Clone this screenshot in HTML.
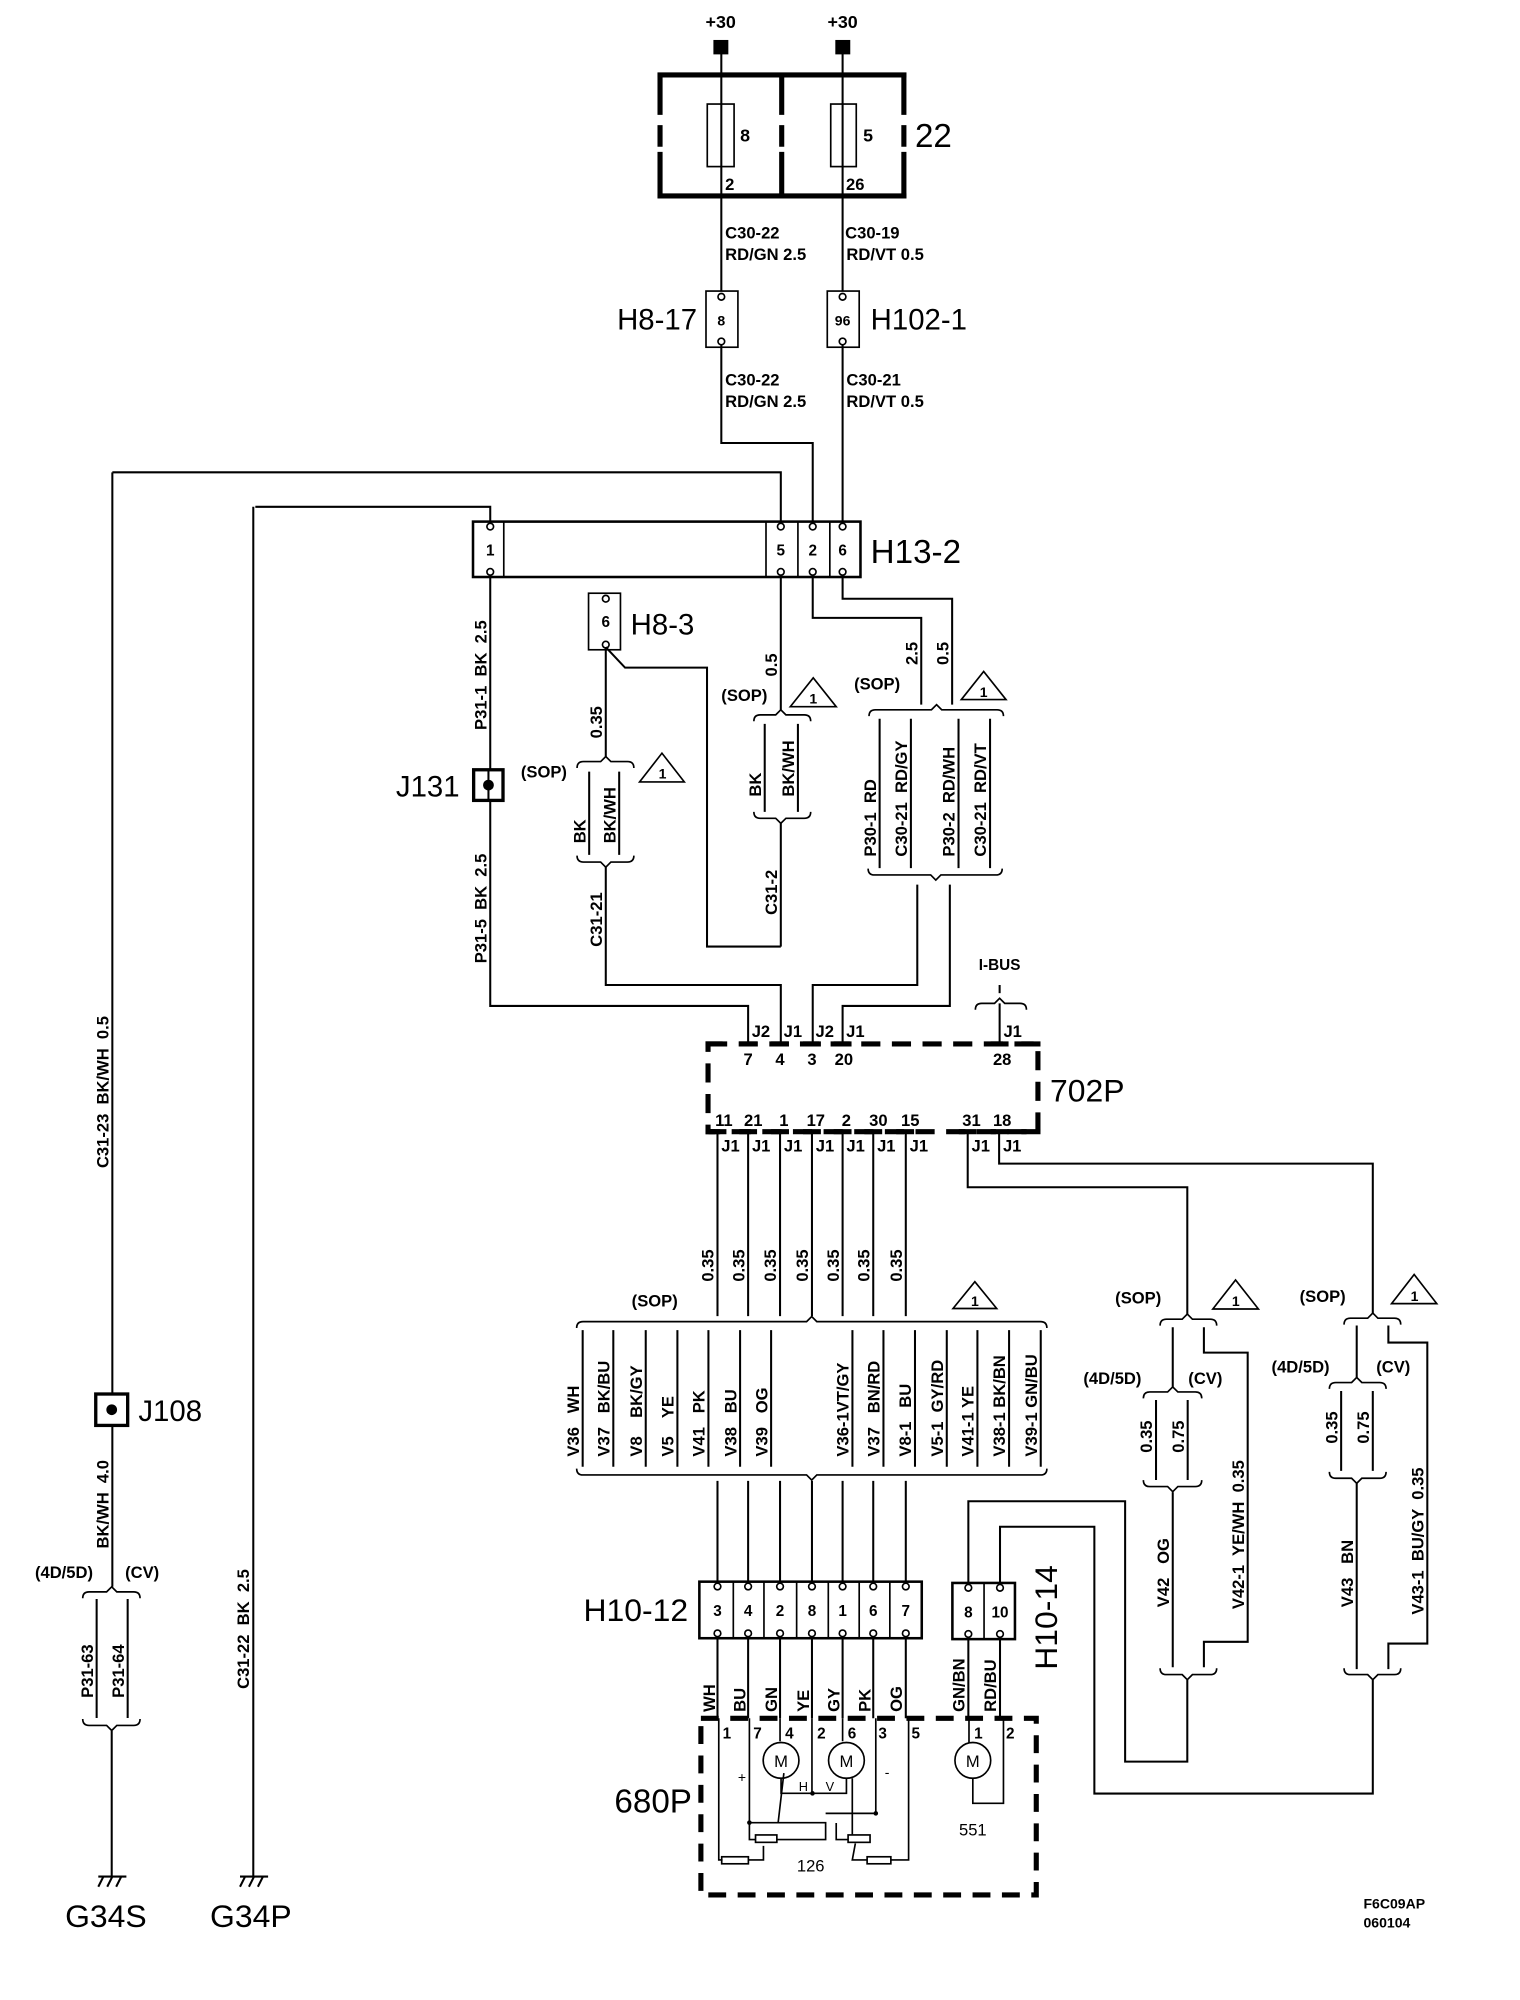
<!DOCTYPE html>
<html><head><meta charset="utf-8"><style>
html,body{margin:0;padding:0;background:#fff;}
svg{display:block;}
text{font-family:"Liberation Sans",Arial,sans-serif;font-weight:bold;fill:#000;}
.n{font-weight:normal;}
.w{stroke:#000;stroke-width:1.6;fill:none;}
.t{stroke:#000;stroke-width:1.3;fill:none;}
</style></head><body>
<svg width="1520" height="2000" viewBox="0 0 1190.6 1566.7" preserveAspectRatio="none" font-size="13" xmlns="http://www.w3.org/2000/svg">
<rect x="0" y="0" width="1190.6" height="1566.7" fill="#fff"/>

<!-- TOP FUSES -->
<text x="564.5" y="22" text-anchor="middle" font-size="14">+30</text>
<text x="660" y="22" text-anchor="middle" font-size="14">+30</text>
<rect x="558.8" y="31.3" width="11.7" height="11.3"/>
<rect x="654.3" y="31.3" width="11.7" height="11.3"/>
<path class="w" d="M565,37V228M660,37V228"/>
<g stroke="#000" stroke-width="4" fill="none">
<path d="M515,58.7H710M515,153.5H710"/>
<path d="M517,56.9V90M517,98V115M517,119V155.4"/>
<path d="M612.3,56.9V90M612.3,98V115M612.3,119V155.4"/>
<path d="M708,56.9V90M708,98V115M708,119V155.4"/>
</g>
<rect x="554" y="81.5" width="21" height="49" class="t"/>
<rect x="650.7" y="81.5" width="20" height="49" class="t"/>
<text x="583.6" y="111" text-anchor="middle" font-size="14">8</text>
<text x="680" y="111" text-anchor="middle" font-size="14">5</text>
<text x="716.7" y="115" font-size="26" class="n">22</text>
<text x="568" y="149">2</text>
<text x="662.7" y="149">26</text>
<text x="568" y="186.7">C30-22</text>
<text x="568" y="203.7">RD/GN 2.5</text>
<text x="662" y="186.7">C30-19</text>
<text x="663" y="203.7">RD/VT 0.5</text>

<!-- H8-17 / H102-1 -->
<rect x="553" y="228" width="25" height="44" class="t"/>
<rect x="648" y="228" width="25" height="44" class="t"/>
<circle cx="565" cy="232.5" r="2.6" class="t" fill="#fff"/><circle cx="565" cy="267.5" r="2.6" class="t" fill="#fff"/>
<circle cx="660" cy="232.5" r="2.6" class="t" fill="#fff"/><circle cx="660" cy="267.5" r="2.6" class="t" fill="#fff"/>
<text x="565" y="255" text-anchor="middle" font-size="11">8</text>
<text x="660" y="255" text-anchor="middle" font-size="11">96</text>
<text x="546" y="258" text-anchor="end" font-size="23" class="n">H8-17</text>
<text x="682" y="258" font-size="23" class="n">H102-1</text>
<path class="w" d="M565,270V347H636.6V408M660,270V408"/>
<text x="568" y="302">C30-22</text>
<text x="568" y="319">RD/GN 2.5</text>
<text x="663" y="302">C30-21</text>
<text x="663" y="319">RD/VT 0.5</text>
<path class="w" d="M88,370H611.6V408M200,397H384V408"/>

<!-- H13-2 -->
<rect x="370.5" y="408.6" width="303.5" height="43.4" stroke="#000" stroke-width="2" fill="none"/>
<path class="t" d="M394.6,408.6V452M600,408.6V452M625,408.6V452M650,408.6V452"/>
<g class="t" fill="#fff">
<circle cx="384" cy="412.5" r="2.6"/><circle cx="384" cy="448" r="2.6"/>
<circle cx="611.6" cy="412.5" r="2.6"/><circle cx="611.6" cy="448" r="2.6"/>
<circle cx="636.6" cy="412.5" r="2.6"/><circle cx="636.6" cy="448" r="2.6"/>
<circle cx="660" cy="412.5" r="2.6"/><circle cx="660" cy="448" r="2.6"/>
</g>
<text x="384" y="435" text-anchor="middle" font-size="12">1</text>
<text x="611.6" y="435" text-anchor="middle" font-size="12">5</text>
<text x="636.6" y="435" text-anchor="middle" font-size="12">2</text>
<text x="660" y="435" text-anchor="middle" font-size="12">6</text>
<text x="682" y="441" font-size="26" class="n">H13-2</text>

<!-- pin 1 / J131 -->
<path class="w" d="M384,450V788H586V818"/>
<rect x="371" y="603" width="23" height="24" stroke="#000" stroke-width="2.6" fill="#fff"/>
<circle cx="382.6" cy="615" r="4.2"/>
<path class="w" d="M382.6,603V627"/>
<text x="360" y="624" text-anchor="end" font-size="23" class="n">J131</text>
<text transform="translate(381,571.8) rotate(-90)" xml:space="preserve">P31-1  BK  2.5</text>
<text transform="translate(381,754.6) rotate(-90)" xml:space="preserve">P31-5  BK  2.5</text>

<!-- H8-3 group -->
<rect x="461" y="464.7" width="25" height="44.3" class="t"/>
<circle cx="474.5" cy="469" r="2.6" class="t" fill="#fff"/><circle cx="474.5" cy="505" r="2.6" class="t" fill="#fff"/>
<text x="474.5" y="491" text-anchor="middle" font-size="12">6</text>
<text x="494" y="497" font-size="23" class="n">H8-3</text>
<path class="w" d="M474.5,507L489.6,523H553.8V741.5H611.6"/>
<path class="w" d="M474.5,507V592.6"/>
<text transform="translate(471.5,578.4) rotate(-90)">0.35</text>
<text x="408" y="609">(SOP)</text>
<path class="t" d="M452,601.6Q452,596.6 457,596.6L470.5,596.6L474.5,592.6L478.5,596.6L491.5,596.6Q496.5,596.6 496.5,601.6"/>
<path class="t" d="M501,612.5L518.5,590L536,612.5Z"/>
<text x="519" y="610" text-anchor="middle" font-size="11">1</text>
<path class="w" d="M461.5,604.5V669.7M485,604.5V669.7"/>
<text transform="translate(458.5,660.6) rotate(-90)">BK</text>
<text transform="translate(482,660.6) rotate(-90)">BK/WH</text>
<path class="t" d="M452,670.3Q452,675.3 457,675.3L470.5,675.3L474.5,679.3L478.5,675.3L491.5,675.3Q496.5,675.3 496.5,670.3"/>
<path class="w" d="M474.5,679V771.6H611.6V818"/>
<text transform="translate(471.5,741.6) rotate(-90)">C31-21</text>

<!-- pin 5 group -->
<path class="w" d="M611.6,450V556"/>
<text transform="translate(608.5,529.9) rotate(-90)">0.5</text>
<text x="565" y="549">(SOP)</text>
<path class="t" d="M619,553.6L637,531L655,553.6Z"/>
<text x="637" y="551" text-anchor="middle" font-size="11">1</text>
<path class="t" d="M590.5,565Q590.5,560 595.5,560L607.6,560L611.6,556L615.6,560L630,560Q635,560 635,565"/>
<path class="w" d="M599,567V636M625,567V636"/>
<text transform="translate(596,624) rotate(-90)">BK</text>
<text transform="translate(622,624) rotate(-90)">BK/WH</text>
<path class="t" d="M590.5,636Q590.5,641 595.5,641L607.6,641L611.6,645L615.6,641L630,641Q635,641 635,636"/>
<path class="w" d="M611.6,645V741.5"/>
<text transform="translate(608.5,716.7) rotate(-90)">C31-2</text>

<!-- pins 2/6 group -->
<path class="w" d="M636.6,450V484H721.6V552M660,450V469H745.8V552"/>
<text transform="translate(718.6,520.9) rotate(-90)">2.5</text>
<text transform="translate(742.8,520.9) rotate(-90)">0.5</text>
<text x="669" y="540">(SOP)</text>
<path class="t" d="M753,548L770.5,526L788,548Z"/>
<text x="770.5" y="546" text-anchor="middle" font-size="11">1</text>
<path class="t" d="M680.7,561Q680.7,556 685.7,556L729.6,556L733.6,552L737.6,556L781,556Q786,556 786,561"/>
<path class="w" d="M689,563V680M713.5,563V680M750.8,563V680M775.5,563V680"/>
<text transform="translate(686,671) rotate(-90)" xml:space="preserve">P30-1  RD</text>
<text transform="translate(710.5,671) rotate(-90)" xml:space="preserve">C30-21  RD/GY</text>
<text transform="translate(747.8,671) rotate(-90)" xml:space="preserve">P30-2  RD/WH</text>
<text transform="translate(772.5,671) rotate(-90)" xml:space="preserve">C30-21  RD/VT</text>
<path class="t" d="M680,680.4Q680,685.4 685,685.4L729,685.4L733,689.4L737,685.4L780,685.4Q785,685.4 785,680.4"/>
<path class="w" d="M718.5,693V771.6H636.6V818M744,693V788H660V818"/>

<!-- left long wires -->
<text transform="translate(85,915) rotate(-90)" xml:space="preserve">C31-23  BK/WH  0.5</text>
<path class="w" d="M88,370V1243"/>
<rect x="75" y="1092" width="25" height="24.6" stroke="#000" stroke-width="2.6" fill="#fff"/>
<circle cx="87.5" cy="1104.3" r="4.2"/>
<text x="108.4" y="1113" font-size="23" class="n">J108</text>
<text transform="translate(85,1213) rotate(-90)" xml:space="preserve">BK/WH  4.0</text>
<text x="27.4" y="1236">(4D/5D)</text>
<text x="98" y="1236">(CV)</text>
<path class="t" d="M64.8,1252Q64.8,1247 69.8,1247L83.5,1247L87.5,1243L91.5,1247L104.7,1247Q109.7,1247 109.7,1252"/>
<path class="w" d="M75.7,1252.6V1345.8M100,1252.6V1345.8"/>
<text transform="translate(72.7,1330) rotate(-90)">P31-63</text>
<text transform="translate(97,1330) rotate(-90)">P31-64</text>
<path class="t" d="M64.8,1346.6Q64.8,1351.6 69.8,1351.6L83.5,1351.6L87.5,1355.6L91.5,1351.6L104.7,1351.6Q109.7,1351.6 109.7,1346.6"/>
<path class="w" d="M87.5,1356V1470"/>
<path class="w" d="M77,1470H99M81,1470L77,1478M88,1470L84,1478M95,1470L91,1478"/>
<text x="51" y="1509.6" font-size="25" class="n">G34S</text>
<path class="w" d="M198.4,397V1470"/>
<path class="w" d="M188,1470H210M192,1470L188,1478M199,1470L195,1478M206,1470L202,1478"/>
<text x="164.5" y="1509.6" font-size="25" class="n">G34P</text>
<text transform="translate(195,1323) rotate(-90)" xml:space="preserve">C31-22  BK  2.5</text>

<!-- 702P -->
<rect x="554.6" y="817.8" width="258.4" height="68.7" stroke="#000" stroke-width="4" fill="none" stroke-dasharray="15 9"/>
<g stroke="#000" stroke-width="4">
<path d="M579,817.8H593M604,817.8H618M629,817.8H643M653,817.8H667M776,817.8H790"/>
<path d="M555,886.5H569M579,886.5H593M604,886.5H618M629,886.5H643M653,886.5H667M677,886.5H691M702,886.5H716M751,886.5H765M776,886.5H790"/>
<path d="M552.6,817.8H566M800,817.8H815M552.6,886.5H560M800,886.5H815"/>
</g>
<text x="588.8" y="812.5">J2</text>
<text x="613.8" y="812.5">J1</text>
<text x="638.8" y="812.5">J2</text>
<text x="662.8" y="812.5">J1</text>
<text x="786" y="812.5">J1</text>
<text x="586" y="834.3" text-anchor="middle">7</text>
<text x="611" y="834.3" text-anchor="middle">4</text>
<text x="636" y="834.3" text-anchor="middle">3</text>
<text x="661" y="834.3" text-anchor="middle">20</text>
<text x="785" y="834.3" text-anchor="middle">28</text>
<text x="567" y="882" text-anchor="middle">11</text>
<text x="590" y="882" text-anchor="middle">21</text>
<text x="614" y="882" text-anchor="middle">1</text>
<text x="639" y="882" text-anchor="middle">17</text>
<text x="663" y="882" text-anchor="middle">2</text>
<text x="688" y="882" text-anchor="middle">30</text>
<text x="713" y="882" text-anchor="middle">15</text>
<text x="761" y="882" text-anchor="middle">31</text>
<text x="785" y="882" text-anchor="middle">18</text>
<g>
<text x="565" y="902">J1</text><text x="589" y="902">J1</text><text x="614" y="902">J1</text>
<text x="639" y="902">J1</text><text x="663" y="902">J1</text><text x="687" y="902">J1</text>
<text x="712.5" y="902">J1</text><text x="761" y="902">J1</text><text x="785.6" y="902">J1</text>
</g>
<text x="822.5" y="863" font-size="25" class="n">702P</text>
<text x="783" y="760" text-anchor="middle" font-size="12">I-BUS</text>
<path class="w" d="M783,771.6V778"/>
<path class="t" d="M764,791Q764,786 769,786L779,786L783,782L787,786L799,786Q804,786 804,791"/>
<path class="w" d="M783,786V818"/>

<!-- 702P bottom wires -->
<path class="w" d="M562,886V1031M586,886V1031M611,886V1031M636,886V1031M660,886V1031M684,886V1031M709.5,886V1031"/>
<text transform="translate(559,1004) rotate(-90)">0.35</text>
<text transform="translate(583,1004) rotate(-90)">0.35</text>
<text transform="translate(608,1004) rotate(-90)">0.35</text>
<text transform="translate(633,1004) rotate(-90)">0.35</text>
<text transform="translate(657,1004) rotate(-90)">0.35</text>
<text transform="translate(681,1004) rotate(-90)">0.35</text>
<text transform="translate(706.5,1004) rotate(-90)">0.35</text>
<path class="w" d="M758,886V930H930V1029.4M782.6,886V911.5H1075.3V1028.6"/>

<!-- big SOP group -->
<text x="494.8" y="1023.6">(SOP)</text>
<path class="t" d="M746.5,1025L763.6,1004L780.7,1025Z"/>
<text x="763.6" y="1023" text-anchor="middle" font-size="11">1</text>
<path class="t" d="M451.7,1040.3Q451.7,1035.3 456.7,1035.3L631.8,1035.3L635.8,1031.3L639.8,1035.3L815,1035.3Q820,1035.3 820,1040.3"/>
<path class="w" d="M456.4,1042V1149M480.4,1042V1149M505.8,1042V1149M530.6,1042V1149M554.9,1042V1149M579.7,1042V1149M604,1042V1149M667.7,1042V1149M692,1042V1149M716.7,1042V1149M741.6,1042V1149M765.6,1042V1149M790.4,1042V1149M815.2,1042V1149"/>
<g>
<text transform="translate(453.4,1141) rotate(-90)" xml:space="preserve">V36   WH</text>
<text transform="translate(477.4,1141) rotate(-90)" xml:space="preserve">V37   BK/BU</text>
<text transform="translate(502.8,1141) rotate(-90)" xml:space="preserve">V8    BK/GY</text>
<text transform="translate(527.6,1141) rotate(-90)" xml:space="preserve">V5    YE</text>
<text transform="translate(551.9,1141) rotate(-90)" xml:space="preserve">V41   PK</text>
<text transform="translate(576.7,1141) rotate(-90)" xml:space="preserve">V38   BU</text>
<text transform="translate(601,1141) rotate(-90)" xml:space="preserve">V39   OG</text>
<text transform="translate(664.7,1141) rotate(-90)" xml:space="preserve">V36-1VT/GY</text>
<text transform="translate(689,1141) rotate(-90)" xml:space="preserve">V37   BN/RD</text>
<text transform="translate(713.7,1141) rotate(-90)" xml:space="preserve">V8-1   BU</text>
<text transform="translate(738.6,1141) rotate(-90)" xml:space="preserve">V5-1  GY/RD</text>
<text transform="translate(762.6,1141) rotate(-90)" xml:space="preserve">V41-1 YE</text>
<text transform="translate(787.4,1141) rotate(-90)" xml:space="preserve">V38-1 BK/BN</text>
<text transform="translate(812.2,1141) rotate(-90)" xml:space="preserve">V39-1 GN/BU</text>
</g>
<path class="t" d="M451.7,1150.4Q451.7,1155.4 456.7,1155.4L631.8,1155.4L635.8,1159.4L639.8,1155.4L815,1155.4Q820,1155.4 820,1150.4"/>
<path class="w" d="M562,1160V1240M586,1160V1240M611,1160V1240M636,1160V1240M660,1160V1240M684,1160V1240M709.5,1160V1240"/>

<!-- H10-12 -->
<rect x="547.8" y="1239" width="174.2" height="44.3" stroke="#000" stroke-width="2" fill="none"/>
<path class="t" d="M574.4,1239V1283.3M598.4,1239V1283.3M624,1239V1283.3M648.8,1239V1283.3M673,1239V1283.3M697,1239V1283.3"/>
<g class="t" fill="#fff">
<circle cx="562" cy="1242.8" r="2.6"/><circle cx="562" cy="1279.5" r="2.6"/>
<circle cx="586" cy="1242.8" r="2.6"/><circle cx="586" cy="1279.5" r="2.6"/>
<circle cx="611" cy="1242.8" r="2.6"/><circle cx="611" cy="1279.5" r="2.6"/>
<circle cx="636" cy="1242.8" r="2.6"/><circle cx="636" cy="1279.5" r="2.6"/>
<circle cx="660" cy="1242.8" r="2.6"/><circle cx="660" cy="1279.5" r="2.6"/>
<circle cx="684" cy="1242.8" r="2.6"/><circle cx="684" cy="1279.5" r="2.6"/>
<circle cx="709.5" cy="1242.8" r="2.6"/><circle cx="709.5" cy="1279.5" r="2.6"/>
</g>
<g font-size="12" text-anchor="middle">
<text x="562" y="1266">3</text><text x="586" y="1266">4</text><text x="611" y="1266">2</text>
<text x="636" y="1266">8</text><text x="660" y="1266">1</text><text x="684" y="1266">6</text><text x="709.5" y="1266">7</text>
</g>
<text x="539" y="1270" text-anchor="end" font-size="25" class="n">H10-12</text>

<!-- H10-14 -->
<rect x="746" y="1240" width="49" height="44" stroke="#000" stroke-width="2" fill="none"/>
<path class="t" d="M770.8,1240V1284"/>
<circle cx="758.5" cy="1243.8" r="2.6" class="t" fill="#fff"/><circle cx="758.5" cy="1280" r="2.6" class="t" fill="#fff"/>
<circle cx="783.3" cy="1243.8" r="2.6" class="t" fill="#fff"/><circle cx="783.3" cy="1280" r="2.6" class="t" fill="#fff"/>
<text x="758.5" y="1267" text-anchor="middle" font-size="12">8</text>
<text x="783.3" y="1267" text-anchor="middle" font-size="12">10</text>
<text transform="translate(828,1308) rotate(-90)" font-size="25" class="n">H10-14</text>
<path class="w" d="M758.5,1241V1176H881.3V1380H930V1316M783.3,1241V1196H857.2V1405H1075.3V1316"/>

<!-- V42 group -->
<text x="873.5" y="1021">(SOP)</text>
<path class="t" d="M950,1025.4L967.8,1002.7L985.7,1025.4Z"/>
<text x="968" y="1023" text-anchor="middle" font-size="11">1</text>
<path class="t" d="M908.7,1038.4Q908.7,1033.4 913.7,1033.4L926,1033.4L930,1029.4L934,1033.4L948,1033.4Q953,1033.4 953,1038.4"/>
<path class="w" d="M918.6,1039.7V1086.4M943,1039.7V1059.6H977.3V1286.1H943V1306"/>
<text x="848.6" y="1084">(4D/5D)</text>
<text x="930.8" y="1084">(CV)</text>
<path class="t" d="M895.6,1095.4Q895.6,1090.4 900.6,1090.4L914.6,1090.4L918.6,1086.4L922.6,1090.4L936.3,1090.4Q941.3,1090.4 941.3,1095.4"/>
<path class="w" d="M905.5,1096.7V1159.4M930.3,1096.7V1159.4"/>
<text transform="translate(902.5,1138) rotate(-90)">0.35</text>
<text transform="translate(927.3,1138) rotate(-90)">0.75</text>
<path class="t" d="M895.6,1159.5Q895.6,1164.5 900.6,1164.5L914.6,1164.5L918.6,1168.5L922.6,1164.5L936.3,1164.5Q941.3,1164.5 941.3,1159.5"/>
<path class="w" d="M918.6,1169V1306"/>
<text transform="translate(915.6,1259) rotate(-90)" xml:space="preserve">V42   OG</text>
<text transform="translate(974.3,1260.5) rotate(-90)" xml:space="preserve">V42-1  YE/WH  0.35</text>
<path class="t" d="M908.7,1306.8Q908.7,1311.8 913.7,1311.8L926,1311.8L930,1315.8L934,1311.8L948,1311.8Q953,1311.8 953,1306.8"/>

<!-- V43 group -->
<text x="1018" y="1020">(SOP)</text>
<path class="t" d="M1090,1021.2L1107.7,998.4L1125.4,1021.2Z"/>
<text x="1108" y="1019" text-anchor="middle" font-size="11">1</text>
<path class="t" d="M1052.8,1037.6Q1052.8,1032.6 1057.8,1032.6L1071.3,1032.6L1075.3,1028.6L1079.3,1032.6L1092.2,1032.6Q1097.2,1032.6 1097.2,1037.6"/>
<path class="w" d="M1062.7,1038.3V1079M1087.5,1038.3V1051.7H1118V1287.5H1087.5V1307.5"/>
<text x="996" y="1075">(4D/5D)</text>
<text x="1078" y="1075">(CV)</text>
<path class="t" d="M1041.3,1088Q1041.3,1083 1046.3,1083L1058.7,1083L1062.7,1079L1066.7,1083L1080.7,1083Q1085.7,1083 1085.7,1088"/>
<path class="w" d="M1050.5,1089.6V1152.2M1075.3,1089.6V1152.2"/>
<text transform="translate(1047.5,1130.9) rotate(-90)">0.35</text>
<text transform="translate(1072.3,1130.9) rotate(-90)">0.75</text>
<path class="t" d="M1041.3,1153Q1041.3,1158 1046.3,1158L1058.7,1158L1062.7,1162L1066.7,1158L1080.7,1158Q1085.7,1158 1085.7,1153"/>
<path class="w" d="M1062.7,1162V1307.5"/>
<text transform="translate(1059.7,1259) rotate(-90)" xml:space="preserve">V43   BN</text>
<text transform="translate(1115,1264.8) rotate(-90)" xml:space="preserve">V43-1  BU/GY  0.35</text>
<path class="t" d="M1052.8,1306.8Q1052.8,1311.8 1057.8,1311.8L1071.3,1311.8L1075.3,1315.8L1079.3,1311.8L1092.2,1311.8Q1097.2,1311.8 1097.2,1306.8"/>

<!-- 680P -->
<rect x="549" y="1346" width="262.7" height="138.4" stroke="#000" stroke-width="4" fill="none" stroke-dasharray="14 9"/>
<path class="w" d="M562,1282V1346M586,1282V1346M611,1282V1346M636,1282V1346M660,1282V1346M684,1282V1346M709.5,1282V1346M758.5,1282V1346M783.3,1282V1346"/>
<text transform="translate(560,1341) rotate(-90)">WH</text>
<text transform="translate(584,1341) rotate(-90)">BU</text>
<text transform="translate(608.8,1341) rotate(-90)">GN</text>
<text transform="translate(633.5,1341) rotate(-90)">YE</text>
<text transform="translate(657.6,1341) rotate(-90)">GY</text>
<text transform="translate(682,1341) rotate(-90)">PK</text>
<text transform="translate(706.7,1341) rotate(-90)">OG</text>
<text transform="translate(755.5,1341) rotate(-90)">GN/BN</text>
<text transform="translate(780.3,1341) rotate(-90)">RD/BU</text>
<g font-size="12" class="n">
<text x="566" y="1362">1</text><text x="590" y="1362">7</text><text x="615" y="1362">4</text>
<text x="640" y="1362">2</text><text x="664" y="1362">6</text><text x="688" y="1362">3</text>
<text x="714" y="1362">5</text><text x="763" y="1362">1</text><text x="788" y="1362">2</text>
</g>
<!-- inner wiring -->
<path class="t" d="M563,1346V1457H566M586.2,1457H598V1446"/>
<rect x="565.3" y="1454.5" width="20.9" height="5.5" class="t"/>
<rect x="591.8" y="1437.4" width="16.7" height="5.8" class="t"/>
<path class="t" d="M587,1346V1441H592M587,1427.8H646.7V1441H608.5"/>
<circle cx="587" cy="1427.8" r="1.8"/>
<path class="t" d="M611,1346V1364M660,1346V1364"/>
<circle cx="611.8" cy="1379" r="14" class="t" fill="#fff"/>
<circle cx="663" cy="1379" r="14" class="t" fill="#fff"/>
<text x="611.8" y="1384" text-anchor="middle" font-size="13" class="n">M</text>
<text x="663" y="1384" text-anchor="middle" font-size="13" class="n">M</text>
<path class="t" d="M611.8,1393V1404.8H663V1393M636,1346V1404.8M614,1389L609.5,1427.8"/>
<circle cx="636.4" cy="1404.8" r="1.8"/>
<text x="625.7" y="1403" font-size="10" class="n">H</text>
<text x="646.7" y="1403" font-size="10" class="n">V</text>
<text x="578" y="1396" font-size="11" class="n">+</text>
<text x="693" y="1392" font-size="11" class="n">-</text>
<path class="t" d="M686,1346V1420.5H646.7M667.6,1393V1437M655,1428V1441H664.3"/>
<circle cx="686" cy="1420.5" r="1.8"/>
<rect x="664.3" y="1437.4" width="17.2" height="5.8" class="t"/>
<path class="t" d="M711.7,1346V1457H697.8M679.2,1457H667.6L670,1444"/>
<rect x="679.2" y="1454.5" width="18.6" height="5.5" class="t"/>
<text x="635" y="1466" text-anchor="middle" font-size="13" class="n">126</text>
<circle cx="762" cy="1379" r="14" class="t" fill="#fff"/>
<text x="762" y="1384" text-anchor="middle" font-size="13" class="n">M</text>
<path class="t" d="M759,1346V1365M762,1393V1412.6H786V1346"/>
<text x="762" y="1438" text-anchor="middle" font-size="13" class="n">551</text>
<text x="542" y="1420" text-anchor="end" font-size="26" class="n">680P</text>

<text x="1068" y="1495" font-size="11">F6C09AP</text>
<text x="1068" y="1510" font-size="11">060104</text>
</svg>
</body></html>
